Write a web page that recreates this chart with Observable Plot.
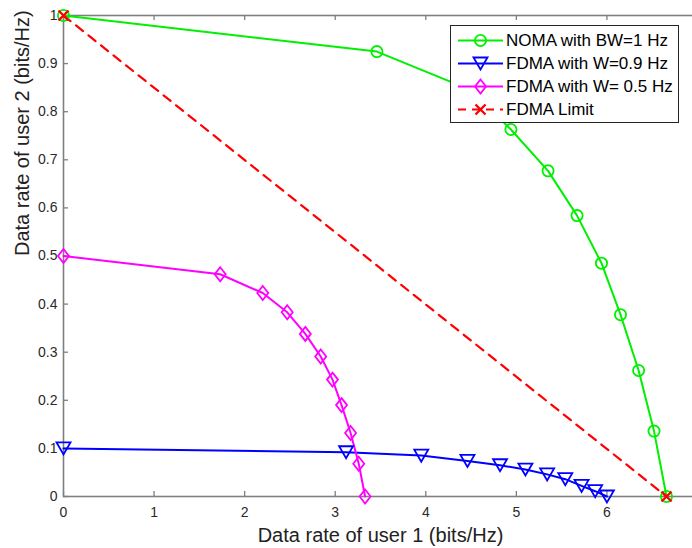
<!DOCTYPE html>
<html><head><meta charset="utf-8">
<script src="https://cdn.jsdelivr.net/npm/d3@7"></script>
<script src="https://cdn.jsdelivr.net/npm/@observablehq/plot@0.6"></script>
<style>
html,body{margin:0;padding:0;background:#fff;overflow:hidden;}
#wrap{position:relative;width:692px;height:548px;overflow:hidden;}
#chart svg{max-width:none !important;height:548px !important;width:698px !important;}
#legend{position:absolute;left:450px;top:25px;width:229px;height:98px;border:1px solid #262626;background:#fff;box-sizing:border-box;font-family:"Liberation Sans",Arial,sans-serif;font-size:17px;color:#000;}
.row{position:absolute;left:0;height:23px;width:100%;}
.row svg{position:absolute;left:4px;top:0;}
.row span{position:absolute;left:55px;top:2px;line-height:19px;white-space:nowrap;}
</style></head><body>
<div id="wrap"><div id="chart"></div><div id="legend"></div></div>
<script>
// ---- data ----
const nomaX   = [0, 3.46, 4.50, 4.94, 5.35, 5.67, 5.94, 6.15, 6.35, 6.52, 6.658];
const nomaY   = [1, 0.925, 0.845, 0.763, 0.677, 0.584, 0.485, 0.378, 0.262, 0.136, 0];
const fdma09X = [0, 3.12, 3.95, 4.46, 4.82, 5.10, 5.34, 5.54, 5.72, 5.87, 6.0];
const fdma09Y = [0.1, 0.092, 0.085, 0.074, 0.065, 0.056, 0.046, 0.036, 0.022, 0.011, 0];
const fdma05X = [0, 1.73, 2.20, 2.47, 2.67, 2.84, 2.97, 3.07, 3.17, 3.26, 3.33];
const fdma05Y = [0.5, 0.462, 0.423, 0.383, 0.338, 0.291, 0.243, 0.190, 0.132, 0.068, 0];
const limitX  = [0, 6.658];
const limitY  = [1, 0];
const seriesNames = ["NOMA with BW=1 Hz", "FDMA with W=0.9 Hz", "FDMA with W= 0.5 Hz", "FDMA Limit"];
const xTicks = [0, 1, 2, 3, 4, 5, 6, 7];
const yTicks = [0, 0.1, 0.2, 0.3, 0.4, 0.5, 0.6, 0.7, 0.8, 0.9, 1];
const xLabel = "Data rate of user 1 (bits/Hz)";
const yLabel = "Data rate of user 2 (bits/Hz)";

const toRows = (xs, ys) => xs.map((x, i) => ({x, y: ys[i]}));
const noma = toRows(nomaX, nomaY);
const f09 = toRows(fdma09X, fdma09Y);
const f05 = toRows(fdma05X, fdma05Y);
const lim = toRows(limitX, limitY);

// ---- marker shapes ----
const triDown = {draw(c){ c.moveTo(-7,-6); c.lineTo(7,-6); c.lineTo(0,6); c.closePath(); }};
const diamond = {draw(c){ c.moveTo(0,-7); c.lineTo(5.5,0); c.lineTo(0,7); c.lineTo(-5.5,0); c.closePath(); }};
const cross   = {draw(c){ c.moveTo(-5,-5); c.lineTo(5,5); c.moveTo(5,-5); c.lineTo(-5,5); }};

const W = 698, H = 548, mL = 63, mR = 1, mT = 15, mB = 52;
const innerW = W - mL - mR, innerH = H - mT - mB;
const axisColor = "#7f7f7f";
const font = "'Liberation Sans', Arial, sans-serif";

const chart = Plot.plot({
  width: W, height: H,
  marginLeft: mL, marginRight: mR, marginTop: mT, marginBottom: mB,
  style: {fontFamily: font, fontSize: "14px", color: "#2a2a2a", background: "#fff", overflow: "visible", maxWidth: "none"},
  x: {domain: [0, 7]},
  y: {domain: [0, 1]},
  marks: [
    Plot.axisX({ticks: xTicks.slice(0, 7), tickSize: 0, tickPadding: 11, tickFormat: d => String(d), label: null, fontSize: 14}),
    Plot.axisY({ticks: yTicks, tickSize: 0, tickPadding: 6, tickFormat: d => String(+d.toFixed(1)), label: null, fontSize: 14}),
    Plot.tickX(xTicks, {x: d => d, stroke: axisColor, strokeWidth: 1.3, insetTop: innerH - 5}),
    Plot.tickX(xTicks, {x: d => d, stroke: axisColor, strokeWidth: 1.3, insetBottom: innerH - 5}),
    Plot.tickY(yTicks, {y: d => d, stroke: axisColor, strokeWidth: 1.3, insetRight: innerW - 5}),
    Plot.tickY(yTicks, {y: d => d, stroke: axisColor, strokeWidth: 1.3, insetLeft: innerW - 5}),
    Plot.frame({stroke: axisColor, strokeWidth: 1.6}),
    Plot.line(noma, {x: "x", y: "y", stroke: "#00f000", strokeWidth: 2}),
    Plot.line(f09, {x: "x", y: "y", stroke: "#0000ff", strokeWidth: 2}),
    Plot.line(f05, {x: "x", y: "y", stroke: "#ff00ff", strokeWidth: 2}),
    Plot.line(lim, {x: "x", y: "y", stroke: "#ff0000", strokeWidth: 2.2, strokeDasharray: "9,7"}),
    Plot.dot(noma, {x: "x", y: "y", r: 5.6, symbol: "circle", fill: "none", stroke: "#00f000", strokeWidth: 1.8}),
    Plot.dot(f09, {x: "x", y: "y", r: 5, symbol: triDown, fill: "none", stroke: "#0000ff", strokeWidth: 1.8}),
    Plot.dot(f05, {x: "x", y: "y", r: 5, symbol: diamond, fill: "none", stroke: "#ff00ff", strokeWidth: 1.8}),
    Plot.dot(lim, {x: "x", y: "y", r: 5, symbol: cross, fill: "none", stroke: "#ff0000", strokeWidth: 2.4}),
    Plot.text([xLabel], {text: d => d, frameAnchor: "bottom", dy: 45, fontSize: 20, fill: "#222", fontFamily: font}),
    Plot.text([yLabel], {text: d => d, frameAnchor: "left", dx: -41, rotate: -90, fontSize: 20, fill: "#222", fontFamily: font})
  ]
});
document.getElementById("chart").appendChild(chart);

// ---- legend ----
const legendItems = [
  {name: seriesNames[0], color: "#00f000", shape: "circle", dash: null},
  {name: seriesNames[1], color: "#0000ff", shape: "tri", dash: null},
  {name: seriesNames[2], color: "#ff00ff", shape: "dia", dash: null},
  {name: seriesNames[3], color: "#ff0000", shape: "cross", dash: "8,6"}
];
const shapePath = {
  tri: "M-7,-6L7,-6L0,6Z",
  dia: "M0,-7L5.5,0L0,7L-5.5,0Z",
  cross: "M-5,-5L5,5M5,-5L-5,5"
};
const leg = document.getElementById("legend");
legendItems.forEach((it, i) => {
  const row = document.createElement("div");
  row.className = "row";
  row.style.top = (3 + i * 23) + "px";
  const cx = 25.5;
  let marker = it.shape === "circle"
    ? `<circle cx="${cx}" cy="11.5" r="5.6" fill="none" stroke="${it.color}" stroke-width="1.8"/>`
    : `<path transform="translate(${cx},11.5)" d="${shapePath[it.shape]}" fill="none" stroke="${it.color}" stroke-width="${it.shape==='cross'?2.4:1.8}"/>`;
  row.innerHTML = `<svg width="50" height="23"><line x1="3" x2="48" y1="11.5" y2="11.5" stroke="${it.color}" stroke-width="2" ${it.dash ? `stroke-dasharray="${it.dash}"` : ""}/>${marker}</svg><span>${it.name}</span>`;
  leg.appendChild(row);
});
</script>
</body></html>
